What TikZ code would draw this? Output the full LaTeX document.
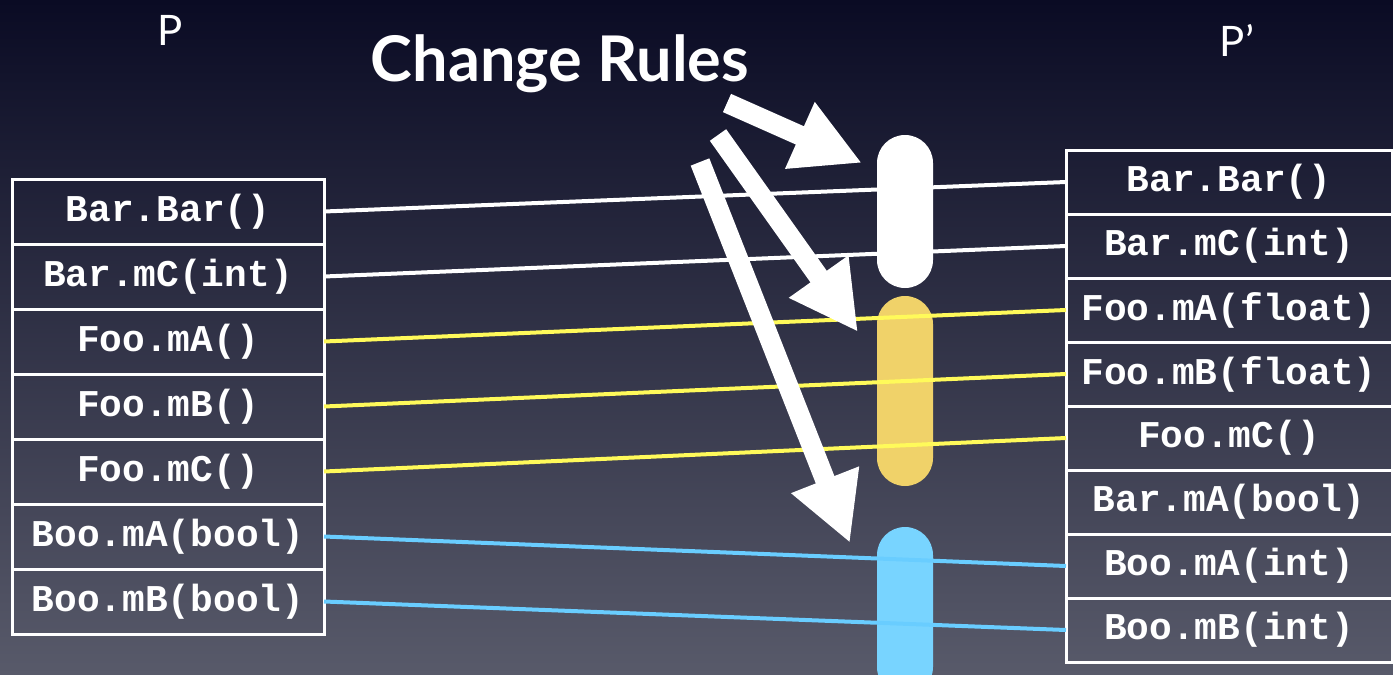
\documentclass[tikz,border=0pt]{standalone}
\usepackage{fontspec}
\setmainfont{Lato}
\setmonofont{Liberation Mono}
\usetikzlibrary{positioning,arrows.meta}
\definecolor{bgatas}{RGB}{10,11,36}
\definecolor{bgbawah}{RGB}{88,90,106}
\definecolor{kuning}{RGB}{255,250,90}
\definecolor{emas}{RGB}{240,210,105}
\definecolor{biru}{RGB}{105,205,255}
\definecolor{birupil}{RGB}{120,212,255}
\tikzset{
  sel/.style={draw=white, line width=1.5pt, outer sep=0pt, inner sep=0pt, text=white,
    font=\ttfamily\bfseries\fontsize{18.9}{20}\selectfont},
  selkiri/.style={sel, minimum width=156pt, minimum height=32.5pt},
  selkanan/.style={sel, minimum width=163pt, minimum height=32pt},
  pil/.style={minimum width=28pt, rounded corners=14pt, inner sep=0pt},
  garis/.style={line width=2pt},
  panah/.style={draw=white, line width=10pt, -{Triangle[length=34pt,width=34pt]}}
}
\begin{document}
\begin{tikzpicture}[x=0.5pt, y=-0.5pt]
        % Latar
        \useasboundingbox (0,0) rectangle (1393,675);
        \clip (0,0) rectangle (1393,675);
        \fill[top color=bgatas, bottom color=bgbawah] (0,0) rectangle (1393,675);

        % Judul
        \node[text=white, font=\bfseries\fontsize{31.5}{34}\selectfont] (judul) at (560,64) {Change Rules};
        \node[text=white, font=\fontsize{21}{24}\selectfont] (p) at (170,30) {P};
        \node[text=white, font=\fontsize{21}{24}\selectfont] (pp) at (1237,40) {P’};

        % Tabel P
        \node[selkiri] (k1) at (168,211.5) {Bar.Bar()};
        \node[selkiri, below=0pt of k1] (k2) {Bar.mC(int)};
        \node[selkiri, below=0pt of k2] (k3) {Foo.mA()};
        \node[selkiri, below=0pt of k3] (k4) {Foo.mB()};
        \node[selkiri, below=0pt of k4] (k5) {Foo.mC()};
        \node[selkiri, below=0pt of k5] (k6) {Boo.mA(bool)};
        \node[selkiri, below=0pt of k6] (k7) {Boo.mB(bool)};

        % Tabel P'
        \node[selkanan] (n1) at (1229,182) {Bar.Bar()};
        \node[selkanan, below=0pt of n1] (n2) {Bar.mC(int)};
        \node[selkanan, below=0pt of n2] (n3) {Foo.mA(float)};
        \node[selkanan, below=0pt of n3] (n4) {Foo.mB(float)};
        \node[selkanan, below=0pt of n4] (n5) {Foo.mC()};
        \node[selkanan, below=0pt of n5] (n6) {Bar.mA(bool)};
        \node[selkanan, below=0pt of n6] (n7) {Boo.mA(int)};
        \node[selkanan, below=0pt of n7] (n8) {Boo.mB(int)};

        % Pil
        \node[pil, fill=white, minimum height=76.5pt] (pilputih) at (905,211.5) {};
        \node[pil, fill=emas, minimum height=95pt] (pilemas) at (905,391) {};
        \node[pil, fill=birupil, minimum height=84pt] (pilbiru) at (905,611) {};

        % Garis
        \draw[garis, white] (k1.east) -- (n1.west);
        \draw[garis, white] (k2.east) -- (n2.west);
        \draw[garis, kuning] (k3.east) -- (n3.west);
        \draw[garis, kuning] (k4.east) -- (n4.west);
        \draw[garis, kuning] (k5.east) -- (n5.west);
        \draw[garis, biru] (k6.east) -- (n7.west);
        \draw[garis, biru] (k7.east) -- (n8.west);

        % Panah
        \coordinate (a1) at (727,103);
        \coordinate (b1) at (862,163);
        \coordinate (a2) at (718,135);
        \coordinate (b2) at (858,332);
        \coordinate (a3) at (700,162);
        \coordinate (b3) at (850,543);
        \draw[panah] (a1) -- (b1);
        \draw[panah] (a2) -- (b2);
        \draw[panah] (a3) -- (b3);
\end{tikzpicture}
\end{document}
